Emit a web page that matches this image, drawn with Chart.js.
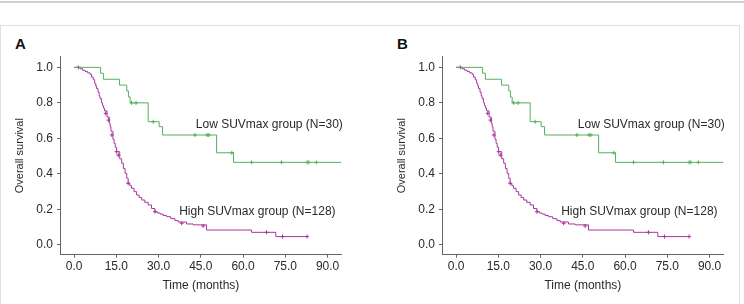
<!DOCTYPE html>
<html>
<head>
<meta charset="utf-8">
<script src="https://cdn.jsdelivr.net/npm/chart.js@4/dist/chart.umd.min.js"></script>
<style>
  html, body { margin: 0; padding: 0; background: #fff; }
  body { width: 744px; height: 304px; position: relative; overflow: hidden;
         font-family: "Liberation Sans", Arial, sans-serif; }
  .topline { position: absolute; left: 0; top: 1px; width: 744px; height: 2px; background: #d0d0d0; }
  .frame { position: absolute; left: 0; top: 25px; width: 738px; height: 300px; border: 1px solid #e0e0e0; }
  .panel-lbl { position: absolute; top: 36px; font-weight: bold; font-size: 15px; line-height: 15px; color: #111; }
  .box { position: absolute; top: 0; height: 304px; }
</style>
</head>
<body>
<div class="topline"></div>
<div class="frame"></div>
<div class="panel-lbl" style="left:15px">A</div>
<div class="panel-lbl" style="left:397px">B</div>
<div class="box" style="left:0;width:372px"><canvas id="chartA" width="372" height="304"></canvas></div>
<div class="box" style="left:382px;width:362px"><canvas id="chartB" width="362" height="304"></canvas></div>

<script>
// Low SUVmax group (N=30): time of each step and survival after it
const lowTimes = [0, 9.4, 10.4, 16.1, 18.7, 19.3, 19.9, 26.3, 30.2, 31.4, 50.6, 56.6, 94.9];
const lowSurv  = [1.0, 0.967, 0.933, 0.9, 0.867, 0.833, 0.8, 0.694, 0.666, 0.619, 0.519, 0.465, 0.465];
const lowCensorTimes = [20.4, 22.0, 28.1, 42.9, 47.2, 47.8, 56.0, 63.0, 73.6, 82.7, 83.3, 86.0];
const lowCensorSurv  = [0.8, 0.8, 0.694, 0.619, 0.619, 0.619, 0.519, 0.465, 0.465, 0.465, 0.465, 0.465];

// High SUVmax group (N=128)
const highTimes = [0, 2.1, 3.0, 3.9, 4.8, 5.7, 6.2, 6.8, 7.3, 7.7, 8.0, 8.5, 8.9, 9.2, 9.7, 10.1,
  10.4, 10.8, 11.7, 12.5, 12.8, 13.1, 13.8, 14.2, 14.6, 15.1, 16.2, 16.9, 17.5, 18.1, 18.7,
  19.2, 19.8, 20.4, 21.3, 22.2, 23.1, 24.0, 25.1, 26.3, 27.5, 28.7, 29.6, 30.5, 31.6, 32.8,
  34.3, 35.8, 37.0, 39.9, 42.3, 47.0, 63.0, 71.6, 82.7];
const highSurv = [1.0, 0.992, 0.984, 0.977, 0.969, 0.961, 0.945, 0.93, 0.91, 0.895, 0.88, 0.86, 0.84, 0.825, 0.8, 0.785,
  0.77, 0.755, 0.72, 0.685, 0.666, 0.64, 0.595, 0.572, 0.55, 0.525, 0.485, 0.46, 0.43, 0.403, 0.375,
  0.347, 0.333, 0.319, 0.3, 0.281, 0.267, 0.253, 0.24, 0.225, 0.205, 0.187, 0.18, 0.174, 0.166, 0.159,
  0.148, 0.137, 0.129, 0.118, 0.113, 0.084, 0.071, 0.047, 0.047];
const highCensorTimes = [1.5, 11.2, 12.2, 13.4, 15.1, 15.7, 19.2, 28.7, 38.2, 45.8, 68.3, 74.0, 82.7];
const highCensorSurv  = [1.0, 0.741, 0.703, 0.619, 0.525, 0.506, 0.347, 0.187, 0.122, 0.107, 0.071, 0.047, 0.047];

const xTicks = [0, 15, 30, 45, 60, 75, 90];
const yTicks = [0, 0.2, 0.4, 0.6, 0.8, 1.0];
const groupLabels = ["Low SUVmax group (N=30)", "High SUVmax group (N=128)"];

const GREEN = "#55b15c";
const PURPLE = "#a8359f";
const AXIS = "#666";
const TEXT = "#2a2a2a";
const FONT = "'Liberation Sans', Arial, sans-serif";

function toPoints(xs, ys) {
  return xs.map((x, i) => ({ x: x, y: ys[i] }));
}

// texto de los grupos, colocado en coordenadas de datos
const groupTextPlugin = {
  id: "groupText",
  afterDatasetsDraw(chart) {
    const { ctx, scales } = chart;
    ctx.save();
    ctx.font = "12px " + FONT;
    ctx.fillStyle = TEXT;
    ctx.textBaseline = "middle";
    ctx.textAlign = "left";
    ctx.fillText(groupLabels[0], scales.x.getPixelForValue(43.2), scales.y.getPixelForValue(0.675));
    ctx.fillText(groupLabels[1], scales.x.getPixelForValue(37.3), scales.y.getPixelForValue(0.186));
    ctx.restore();
  }
};

function makeChart(id, padRight) {
  const ctx = document.getElementById(id).getContext("2d");
  return new Chart(ctx, {
    type: "line",
    data: {
      datasets: [
        { data: toPoints(lowTimes, lowSurv), stepped: true, borderColor: GREEN, borderWidth: 1,
          pointRadius: 0, fill: false },
        { data: toPoints(highTimes, highSurv), stepped: true, borderColor: PURPLE, borderWidth: 1,
          pointRadius: 0, fill: false },
        { type: "scatter", data: toPoints(lowCensorTimes, lowCensorSurv), showLine: false,
          pointStyle: "cross", pointRadius: 2, borderColor: GREEN, borderWidth: 1 },
        { type: "scatter", data: toPoints(highCensorTimes, highCensorSurv), showLine: false,
          pointStyle: "cross", pointRadius: 2, borderColor: PURPLE, borderWidth: 1 }
      ]
    },
    options: {
      responsive: false,
      animation: false,
      layout: { padding: { left: 0, top: 56.7, right: padRight, bottom: 0 } },
      plugins: { legend: { display: false }, tooltip: { enabled: false } },
      scales: {
        x: {
          type: "linear", min: -5, max: 95,
          afterBuildTicks: (s) => { s.ticks = xTicks.map((v) => ({ value: v })); },
          afterFit: (s) => { s.height = 49.3; },
          ticks: { callback: (v) => v.toFixed(1), color: TEXT, font: { family: FONT, size: 12 },
                   padding: 2, maxRotation: 0, autoSkip: false },
          grid: { drawOnChartArea: false, tickLength: 3, color: AXIS },
          border: { color: AXIS, width: 1 },
          title: { display: true, text: "Time (months)", color: TEXT,
                   font: { family: FONT, size: 12 }, padding: { top: 0, bottom: 11 } }
        },
        y: {
          type: "linear", min: -0.055, max: 1.06,
          afterBuildTicks: (s) => { s.ticks = yTicks.map((v) => ({ value: v })); },
          afterFit: (s) => { s.width = 60; },
          ticks: { callback: (v) => v.toFixed(1), color: TEXT, font: { family: FONT, size: 12 },
                   padding: 4, autoSkip: false },
          grid: { drawOnChartArea: false, tickLength: 3, color: AXIS },
          border: { color: AXIS, width: 1 },
          title: { display: true, text: "Overall survival", color: TEXT,
                   font: { family: FONT, size: 11 }, padding: { top: 13.4, bottom: 0 } }
        }
      }
    },
    plugins: [groupTextPlugin]
  });
}

makeChart("chartA", 30.3);
makeChart("chartB", 20.3);
</script>
</body>
</html>
